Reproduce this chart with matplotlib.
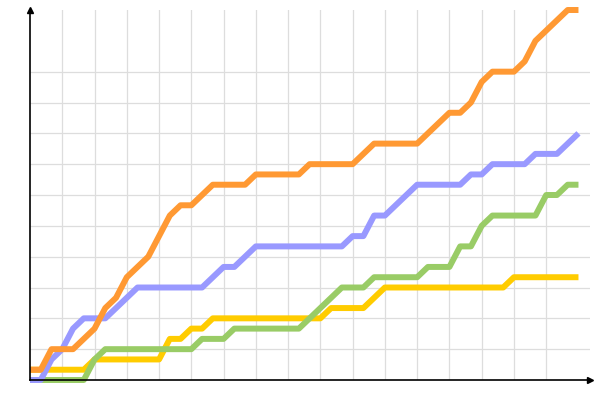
import matplotlib
matplotlib.use('Agg')
from matplotlib import pyplot as plt

# cumulative counts per step (52 steps)
steps = list(range(52))

orange = [1, 1, 3, 3, 3, 4, 5, 7, 8, 10, 11, 12, 14, 16, 17, 17, 18, 19, 19, 19,
          19, 20, 20, 20, 20, 20, 21, 21, 21, 21, 21, 22, 23, 23, 23, 23, 23, 24, 25, 26,
          26, 27, 29, 30, 30, 30, 31, 33, 34, 35, 36, 36]
blue = [0, 0, 2, 3, 5, 6, 6, 6, 7, 8, 9, 9, 9, 9, 9, 9, 9, 10, 11, 11,
        12, 13, 13, 13, 13, 13, 13, 13, 13, 13, 14, 14, 16, 16, 17, 18, 19, 19, 19, 19,
        19, 20, 20, 21, 21, 21, 21, 22, 22, 22, 23, 24]
green = [0, 0, 0, 0, 0, 0, 2, 3, 3, 3, 3, 3, 3, 3, 3, 3, 4, 4, 4, 5,
         5, 5, 5, 5, 5, 5, 6, 7, 8, 9, 9, 9, 10, 10, 10, 10, 10, 11, 11, 11,
         13, 13, 15, 16, 16, 16, 16, 16, 18, 18, 19, 19]
yellow = [1, 1, 1, 1, 1, 1, 2, 2, 2, 2, 2, 2, 2, 4, 4, 5, 5, 6, 6, 6,
          6, 6, 6, 6, 6, 6, 6, 6, 7, 7, 7, 7, 8, 9, 9, 9, 9, 9, 9, 9,
          9, 9, 9, 9, 9, 10, 10, 10, 10, 10, 10, 10]

fig = plt.figure(figsize=(6, 4), dpi=100)
ax = fig.add_axes([0.05, 0.05, 0.9333, 0.925])

lw = 4.3
ax.plot(steps, yellow, color='#ffcc00', lw=lw, solid_capstyle='butt', clip_on=False, zorder=3)
ax.plot(steps, green, color='#99cc66', lw=lw, solid_capstyle='butt', clip_on=False, zorder=4)
ax.plot(steps, blue, color='#9999ff', lw=lw, solid_capstyle='butt', clip_on=False, zorder=5)
ax.plot(steps, orange, color='#ff9933', lw=lw, solid_capstyle='butt', clip_on=False, zorder=6)

ax.set_xlim(0, 52.07)
ax.set_ylim(0, 36)
ax.set_xticks(range(3, 49, 3))
ax.set_yticks(range(3, 31, 3))
ax.grid(True, color='#dddddd', lw=0.9)
ax.set_axisbelow(True)
ax.tick_params(length=0, labelbottom=False, labelleft=False)

for s in ['top', 'right']:
    ax.spines[s].set_visible(False)
for s in ['left', 'bottom']:
    ax.spines[s].set_linewidth(1.2)
    ax.spines[s].set_zorder(7)

# arrow heads on the axes
ax.plot(0, 1, marker='^', color='black', markersize=4, transform=ax.transAxes, clip_on=False, zorder=8)
ax.plot(1, 0, marker='>', color='black', markersize=4, transform=ax.transAxes, clip_on=False, zorder=8)

fig.savefig('out.png', dpi=100)
